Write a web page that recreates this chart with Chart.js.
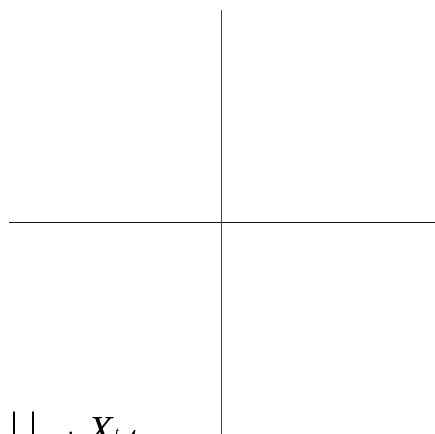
<!DOCTYPE html>
<html>
<head>
<meta charset="utf-8">
<script src="https://cdn.jsdelivr.net/npm/chart.js@4"></script>
<style>
  html, body { margin: 0; padding: 0; background: #fff; overflow: hidden; }
  #wrap { position: relative; width: 435px; height: 434px; overflow: hidden; }
  .cap {
    position: absolute; white-space: pre; line-height: 1;
    font-family: 'Liberation Serif', 'DejaVu Serif', serif; color: #000;
  }
  .cap.it { font-style: italic; }
</style>
</head>
<body>
<div id="wrap">
  <canvas id="axesChart" width="435" height="434"></canvas>
  <span class="cap" style="left:10px; top:406px; font-size:40px;">|</span>
  <span class="cap" style="left:29px; top:406px; font-size:40px;">|</span>
  <span class="cap" style="left:68px; top:416px; font-size:22px;">.</span>
  <span class="cap it" style="left:88px; top:410px; font-size:40px;">X</span>
  <span class="cap it" style="left:115px; top:426px; font-size:14px;">t</span>
  <span class="cap it" style="left:127px; top:420px; font-size:40px;">t</span>
</div>
<script>
// Axis ranges (no marks drawn, only the crossing axes)
const xRange = [-1, 1];
const yRange = [-1, 1];
const seriesPoints = [];

function initAxesChart() {
    const ctx = document.getElementById('axesChart');
    if (!ctx) return;

    const config = {
        type: 'scatter',
        data: {
            datasets: [{
                data: seriesPoints,
                pointRadius: 0
            }]
        },
        options: {
            responsive: false,
            animation: false,
            layout: {
                padding: { left: 9, top: 10, right: 1, bottom: 0 }
            },
            plugins: {
                legend: { display: false },
                tooltip: { enabled: false }
            },
            scales: {
                x: {
                    type: 'linear',
                    position: 'center',
                    min: xRange[0],
                    max: xRange[1],
                    grid: { display: false },
                    ticks: { display: false },
                    border: { display: true, color: '#111', width: 1 }
                },
                y: {
                    type: 'linear',
                    position: 'center',
                    min: yRange[0],
                    max: yRange[1],
                    grid: { display: false },
                    ticks: { display: false },
                    border: { display: true, color: '#444', width: 1 }
                }
            }
        }
    };

    new Chart(ctx, config);
}

initAxesChart();
</script>
</body>
</html>
